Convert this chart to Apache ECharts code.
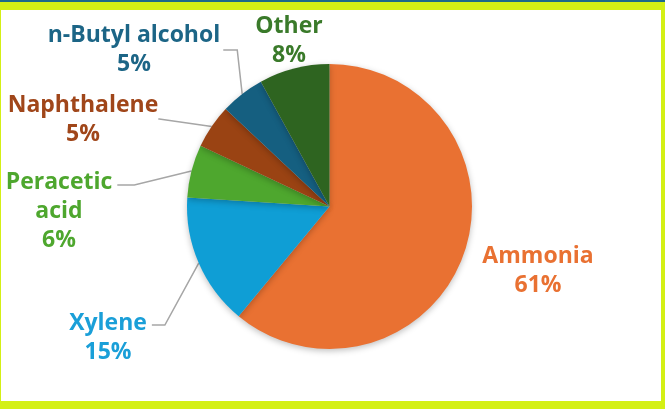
<!DOCTYPE html>
<html><head><meta charset="utf-8">
<script src="https://cdn.jsdelivr.net/npm/echarts@6/dist/echarts.min.js"></script>
<style>
html,body{margin:0;padding:0;background:#d4f015;}
#frame{position:absolute;left:0;top:0;width:665px;height:409px;background:#d4f015;}
#topbar{position:absolute;left:0;top:0;width:665px;height:2px;background:#1d6a8a;}
#chart{position:absolute;left:1px;top:10px;width:660px;height:391px;background:#ffffff;}
</style></head>
<body>
<div id="frame"><div id="topbar"></div><div id="chart"></div></div>
<script>
const categories = ['Ammonia', 'Xylene', 'Peracetic\nacid', 'Naphthalene', 'n-Butyl alcohol', 'Other'];
const values = [61, 15, 6, 5, 5, 8];
const sliceColors = ['#E97132', '#0F9ED5', '#4EA72E', '#9A4313', '#155F80', '#2E6420'];
const labelColors = ['#E97132', '#1A9FD8', '#4EA72E', '#A0461A', '#1C6586', '#3A7A2A'];
// label anchor (center x, top y) in chart-div pixels
const labelPos = [[537, 232], [107, 299], [58, 158], [82, 81], [133, 11], [288, 2]];

const chart = echarts.init(document.getElementById('chart'));
chart.setOption({
  animation: false,
  series: [{
    type: 'pie',
    center: [328.5, 196.5],
    radius: 142.5,
    startAngle: 90,
    clockwise: true,
    data: categories.map((c, i) => ({
      name: c, value: values[i],
      itemStyle: { color: sliceColors[i] },
      label: { color: labelColors[i] },
      labelLine: { show: i !== 0 && i !== 5 }
    })),
    itemStyle: { shadowBlur: 6, shadowColor: 'rgba(0,0,0,0.25)', shadowOffsetY: 2 },
    label: {
      show: true,
      formatter: '{b}\n{d}%',
      fontFamily: '"Open Sans", sans-serif',
      fontWeight: 'bold',
      fontSize: 23,
      lineHeight: 29,
      align: 'center'
    },
    labelLine: { lineStyle: { color: '#a6a6a6', width: 1.5 }, length: 10, length2: 10 },
    labelLayout: function (p) {
      const i = p.dataIndex;
      const pos = labelPos[i];
      const w = p.labelRect.width;
      const res = { x: pos[0], y: pos[1], align: 'center', verticalAlign: 'top' };
      const pts = p.labelLinePoints;
      if (pts) {
        const edge = pts[0];
        const right = pos[0] + w / 2;
        const midY = pos[1] + 14.5;
        if (i === 4) {
          res.labelLinePoints = [edge, [right + 17, midY + 14.5], [right + 3, midY + 14.5]];
        } else if (i === 3) {
          res.labelLinePoints = [edge, [right + 1, midY + 13.5], [right, midY + 13.5]];
        } else if (i === 2) {
          res.labelLinePoints = [edge, [right + 22, midY + 2.5], [right + 5, midY + 2.5]];
        } else if (i === 1) {
          res.labelLinePoints = [edge, [right + 18, midY + 1.5], [right + 5, midY + 1.5]];
        }
      }
      return res;
    }
  }]
});
</script>
</body></html>
